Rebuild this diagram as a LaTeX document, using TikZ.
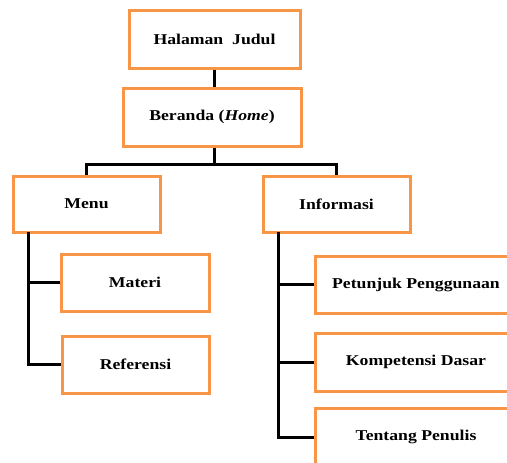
\documentclass[tikz,border=0pt]{standalone}
\usepackage{fontspec}
\setmainfont{Liberation Serif}
\newfontfamily\boxfont[FakeStretch=1.18]{Liberation Serif}
\definecolor{boxorange}{HTML}{F79646}
\begin{document}
\begin{tikzpicture}[x=1pt,y=-1pt,
  box/.style={draw=boxorange, line width=3pt, fill=white, inner sep=0pt,
    font=\boxfont\fontsize{15}{18}\selectfont\bfseries, align=center},
  link/.style={draw=black, line width=3pt}]
\useasboundingbox (0,0) rectangle (507,463);
\clip (0,0) rectangle (507,463);
\node[box, minimum width=171pt, minimum height=58pt] (hj) at (214.5,39) {Halaman\ \ Judul};
\node[box, minimum width=178pt, minimum height=58pt] (ber) at (212,117) {Beranda (\textit{Home})};
\node[box, minimum width=147pt, minimum height=56pt] (menu) at (86.5,204) {Menu};
\node[box, minimum width=147pt, minimum height=56pt] (info) at (336.5,204) {Informasi};
\node[box, minimum width=148pt, minimum height=57pt] (mat) at (135,282.5) {Materi};
\node[box, minimum width=147pt, minimum height=57pt] (ref) at (135.5,364.5) {Referensi};
\node[box, minimum width=202pt, minimum height=57pt] (pet) at (416,284.5) {Petunjuk Penggunaan};
\node[box, minimum width=202pt, minimum height=58pt] (kom) at (416,362) {Kompetensi Dasar};
\node[box, minimum width=202pt, minimum height=58pt] (ten) at (416,437) {Tentang Penulis};
\coordinate (split) at (214,164);
\coordinate (mtop) at (28,232);
\coordinate (itop) at (278,232);
\draw[link] (hj.south -| split) -- (ber.north -| split);
\draw[link] (ber.south -| split) -- (split);
\draw[link] (menu.north) |- (split) -| (info.north);
\draw[link] (mtop) |- (ref.west);
\draw[link] (mtop |- mat.west) -- (mat.west);
\draw[link] (itop) |- (ten.west);
\draw[link] (itop |- pet.west) -- (pet.west);
\draw[link] (itop |- kom.west) -- (kom.west);
\end{tikzpicture}
\end{document}
